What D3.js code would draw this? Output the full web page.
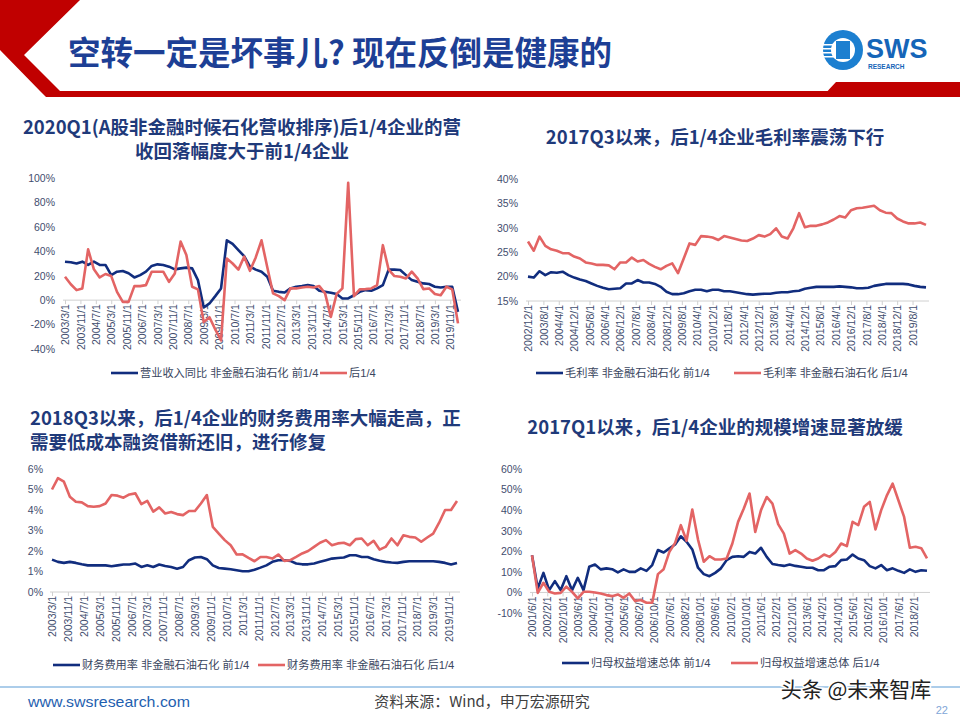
<!DOCTYPE html>
<html><head><meta charset="utf-8">
<script src="https://cdn.jsdelivr.net/npm/d3@7"></script>
<style>html,body{margin:0;padding:0;background:#fff;}svg{display:block;}</style>
</head><body>
<svg id="slide" width="960" height="720"></svg>
<script>
// ---------------- DATA ----------------
const mainTitle = "空转一定是坏事儿? 现在反倒是健康的";

// Chart 1: 营业收入同比 (quarterly, 2003/3 - 2020/3)
const c1Title = ["2020Q1(A股非金融时候石化营收排序)后1/4企业的营", "收回落幅度大于前1/4企业"];
const c1Start = "2003/3/1";
const c1Ticks = ["2003/3/1","2003/11/1","2004/7/1","2005/3/1","2005/11/1","2006/7/1","2007/3/1","2007/11/1","2008/7/1","2009/3/1","2009/11/1","2010/7/1","2011/3/1","2011/11/1","2012/7/1","2013/3/1","2013/11/1","2014/7/1","2015/3/1","2015/11/1","2016/7/1","2017/3/1","2017/11/1","2018/7/1","2019/3/1","2019/11/1"];
const c1YTicks = [100,80,60,40,20,0,-20,-40];
const c1Top = [31.5,31,30,31.5,28.8,31.5,28.8,28.8,20.5,23.3,23.8,22,18.6,20.5,23.3,28,29.3,28.8,27.4,25.2,26,26.6,26,16.4,-6,-2.7,3.3,9.6,49,46,41,36,27.4,25,23.3,19.2,7.7,6.8,6.3,9.6,11,11.5,12.3,11.5,7.7,6.8,6,5,1.4,1.4,4,6.8,8.2,7.7,9.6,12.3,25,25,24.7,20.5,16.4,15,13.7,13.2,11,10.4,11,11,-9.6];
const c1Bottom = [19.2,13,8.2,9.6,41.6,25.2,18.6,21.4,19.7,6.8,-1.4,-1.4,11.5,11.5,12.3,23.3,23.3,23.3,15,21.9,47.9,37,11,8.8,-18,-14,-24,-33,34,30,25,35.6,24,35,49,27,5.5,3.3,0,9.6,9.6,10.4,11,10.4,11.5,5.5,-13.7,5,9.6,96,3.3,8.8,9,9.6,12.3,45,25,19.7,19.2,17.8,23.3,17.8,9,9.6,5,4,11,8.8,-19];
const c1Legend = ["营业收入同比 非金融石油石化 前1/4", "后1/4"];

// Chart 2: 毛利率 (quarterly, 2002/12 - 2020/3)
const c2Title = ["2017Q3以来，后1/4企业毛利率震荡下行"];
const c2Start = "2002/12/1";
const c2Ticks = ["2002/12/1","2003/8/1","2004/4/1","2004/12/1","2005/8/1","2006/4/1","2006/12/1","2007/8/1","2008/4/1","2008/12/1","2009/8/1","2010/4/1","2010/12/1","2011/8/1","2012/4/1","2012/12/1","2013/8/1","2014/4/1","2014/12/1","2015/8/1","2016/4/1","2016/12/1","2017/8/1","2018/4/1","2018/12/1","2019/8/1"];
const c2YTicks = [40,35,30,25,20,15];
const c2Top = [20,19.8,21.1,20.3,20.9,20.8,21,20.3,19.8,19.4,19.1,18.6,18.1,17.7,17.4,17.5,17.6,18.6,18.6,19.3,18.8,18.8,18.5,17.9,16.9,16.4,16.4,16.6,17,17.3,17.3,17,17.3,17.3,17,17,16.8,16.6,16.4,16.3,16.4,16.5,16.5,16.7,16.8,16.8,17,17.1,17.5,17.7,17.9,17.9,17.9,17.9,18,17.9,17.8,17.6,17.6,17.7,18.1,18.3,18.5,18.5,18.5,18.5,18.4,18.1,17.9,17.8];
const c2Bottom = [27.2,25.3,28.2,26.3,25.6,25.3,24.8,24.8,24.1,23.7,22.9,22.7,22.4,22.4,22.3,21.5,22.9,22.9,23.9,23.1,23.4,22.6,22,21.5,22.2,22.7,20.7,23.7,26.8,26.5,28.3,28.2,28,27.5,28.3,28,27.7,27.4,27.3,27.8,28.5,28.2,28.7,29.9,28.2,27.8,29.9,33,30.1,30.4,30.4,30.7,31.1,31.7,32.4,32.1,33.6,34,34.1,34.3,34.5,33.6,33.1,33,31.9,31.3,30.9,30.9,31.1,30.6];
const c2Legend = ["毛利率 非金融石油石化 前1/4", "毛利率 非金融石油石化 后1/4"];

// Chart 3: 财务费用率 (quarterly, 2003/3 - 2020/3)
const c3Title = ["2018Q3以来，后1/4企业的财务费用率大幅走高，正", "需要低成本融资借新还旧，进行修复"];
const c3Start = "2003/3/1";
const c3Ticks = c1Ticks;
const c3YTicks = [6,5,4,3,2,1,0];
const c3Top = [1.58,1.47,1.42,1.47,1.42,1.35,1.3,1.3,1.3,1.3,1.26,1.3,1.34,1.34,1.39,1.22,1.3,1.22,1.34,1.27,1.22,1.14,1.22,1.55,1.68,1.71,1.6,1.3,1.17,1.14,1.11,1.06,1.01,1.01,1.09,1.19,1.3,1.47,1.55,1.55,1.52,1.39,1.35,1.35,1.39,1.47,1.55,1.63,1.66,1.68,1.79,1.79,1.71,1.71,1.6,1.52,1.47,1.44,1.42,1.47,1.5,1.5,1.5,1.5,1.5,1.47,1.42,1.34,1.42];
const c3Bottom = [5.0,5.55,5.38,4.65,4.4,4.37,4.19,4.16,4.19,4.32,4.73,4.7,4.6,4.76,4.81,4.29,4.45,3.92,4.13,3.83,3.9,3.8,3.75,3.95,3.95,4.32,4.73,3.18,2.85,2.53,2.28,1.83,1.84,1.66,1.5,1.71,1.71,1.63,1.83,1.52,1.55,1.71,1.88,2.0,2.2,2.4,2.53,2.28,2.37,2.4,2.28,2.58,2.61,2.28,2.5,2.07,2.2,2.61,2.28,2.77,2.69,2.66,2.45,2.66,2.85,3.38,4.0,4.0,4.44];
const c3Legend = ["财务费用率 非金融石油石化 前1/4", "财务费用率 非金融石油石化 后1/4"];

// Chart 4: 归母权益增速 (quarterly, 2001/6 - 2018/9)
const c4Title = ["2017Q1以来，后1/4企业的规模增速显著放缓"];
const c4Start = "2001/6/1";
const c4Ticks = ["2001/6/1","2002/2/1","2002/10/1","2003/6/1","2004/2/1","2004/10/1","2005/6/1","2006/2/1","2006/10/1","2007/6/1","2008/2/1","2008/10/1","2009/6/1","2010/2/1","2010/10/1","2011/6/1","2012/2/1","2012/10/1","2013/6/1","2014/2/1","2014/10/1","2015/6/1","2016/2/1","2016/10/1","2017/6/1","2018/2/1"];
const c4YTicks = [60,50,40,30,20,10,0,-10];
const c4Top = [18.1,1.9,9.5,1.1,5.5,1.1,7.9,1.1,7.1,1.1,12.5,13.6,11.2,11.7,11.3,9.7,11.2,10,10,11.7,10.5,13.3,20.6,19.4,21.4,23.3,27.3,24.6,20.9,12,8.9,7.9,9.5,11.7,15.7,17.3,17.6,17.3,19.7,18.9,21.7,17.3,13.8,13.3,12.9,13.6,12.9,12.5,12,12,10.8,10.8,12.5,12.8,15.7,16,18.4,16.5,15.7,12.8,11.7,13.3,10.8,11.7,10.5,9.5,11.2,10,10.8,10.5];
const c4Bottom = [18.1,-0.2,4.7,0.3,-0.5,-0.2,2.8,0.3,-2.9,0.3,0.3,0,-0.5,-1.3,-1.8,-1,-2.6,-0.5,-4.2,-3.7,-5,-5,8.9,11.3,19.7,24.1,32.7,25.1,40.3,25.7,14.9,17.6,16,16,16.5,23.8,34.3,40.8,48.1,29.4,40,46.4,43.2,33.2,28.6,18.9,20.6,18.9,16.5,15.4,16.5,18.4,17.3,19.7,23.8,22.5,34.3,32.7,41.6,44,30.6,40,47.2,52.9,44.8,36.7,21.7,22.2,21.5,16.5];
const c4Legend = ["归母权益增速总体 前1/4", "归母权益增速总体 后1/4"];

const footerUrl = "www.swsresearch.com";
const footerSource = "资料来源：Wind，申万宏源研究";
const watermark = "头条 @未来智库";
const pageNo = "22";

// ---------------- STYLE ----------------
const BLUE = "#112d7e", RED = "#e36464", AXISTXT = "#3f4d6e", TITLE = "#1f3a7a";
const LATIN = "'Liberation Sans', Arial, 'Noto Sans CJK SC', sans-serif";
const CJK = "'Noto Sans CJK SC', 'Liberation Sans', sans-serif";

const svg = d3.select("#slide");

// ---------------- HEADER ----------------
const hdr = svg.append("g");
hdr.append("path").attr("fill", "#c00000")
  .attr("d", "M0,0 L80,0 L24,55 L60,91 L40,91 L0,50 Z");
hdr.append("path").attr("fill", "#c00000")
  .attr("d", "M40,91 L960,91 L960,97 L46,97 Z");
hdr.append("path").attr("fill", "#c00000")
  .attr("d", "M836,82 L960,82 L960,97 L822,97 Z");
hdr.append("text").attr("x", 68).attr("y", 65)
  .attr("font-family", CJK).attr("font-weight", 700).attr("font-size", 32.5)
  .attr("fill", "#1d3f95").text(mainTitle);
// logo
const logo = hdr.append("g").attr("transform", "translate(843,50)");
logo.append("circle").attr("r", 20).attr("fill", "#1c7fd0");
logo.append("circle").attr("r", 12).attr("fill", "#ffffff");
logo.append("rect").attr("x", -7).attr("y", -9).attr("width", 14).attr("height", 18).attr("fill", "#1c7fd0");
[-6,-2,2,6].forEach(dy => logo.append("rect").attr("x", -20).attr("y", dy).attr("width", 12).attr("height", 1.5).attr("fill", "#ffffff"));
hdr.append("text").attr("x", 866).attr("y", 58).attr("font-family", LATIN).attr("font-weight", 700)
  .attr("font-size", 27).attr("fill", "#1565b8").text("SWS");
hdr.append("text").attr("x", 868).attr("y", 69).attr("font-family", LATIN).attr("font-weight", 700)
  .attr("font-size", 6.5).attr("fill", "#1565b8").text("RESEARCH");

// ---------------- CHART FUNCTION ----------------
function parseM(s) { const p = s.split("/").map(Number); return p[0] * 12 + (p[1] - 1); }

function drawChart(o) {
  const g = svg.append("g");
  const startM = parseM(o.start);
  const dates = d3.range(o.top.length).map(i => startM + 3 * i);
  const x = d3.scaleLinear().domain([startM, dates[dates.length - 1]]).range([o.x0, o.x1]);
  const y = d3.scaleLinear().domain([o.ymin, o.ymax]).range([o.yb, o.yt]);

  // titles
  o.title.forEach((t, k) => {
    g.append("text").attr("x", o.tx).attr("y", o.ty + k * 23.5)
      .attr("text-anchor", o.tanchor).attr("font-family", CJK).attr("font-weight", 700)
      .attr("font-size", 18.5).attr("fill", TITLE).text(t);
  });

  // y axis labels
  const yAxis = d3.axisLeft(y).tickValues(o.yticks).tickSize(0).tickPadding(0)
    .tickFormat(d => d + "%");
  const ya = g.append("g").attr("transform", `translate(${o.ylabX},0)`).call(yAxis);
  ya.select(".domain").remove();
  ya.selectAll("text").attr("font-family", LATIN).attr("font-size", 10.5).attr("fill", AXISTXT);

  // x axis
  const ay = y(o.xAxisAt);
  const xAxis = d3.axisBottom(x).tickValues(o.ticks.map(parseM)).tickSize(4).tickPadding(3)
    .tickFormat((d, i) => o.ticks[i]);
  const xa = g.append("g").attr("transform", `translate(0,${ay})`).call(xAxis);
  xa.select(".domain").attr("d", `M${o.x0 - 2},0H${o.x1 + 3}`).attr("stroke", "#d0d0d0").attr("stroke-width", 1);
  xa.selectAll(".tick line").attr("stroke", "#d0d0d0");
  xa.selectAll("text").attr("font-family", LATIN).attr("font-size", 10.5).attr("fill", AXISTXT)
    .attr("text-anchor", "end").attr("transform", "rotate(-90)")
    .attr("x", -4).attr("y", 0).attr("dy", "0.35em");

  // lines
  const line = d3.line().x((d, i) => x(dates[i])).y(d => y(d));
  g.append("path").datum(o.top).attr("fill", "none").attr("stroke", BLUE)
    .attr("stroke-width", 2.6).attr("stroke-linejoin", "round").attr("d", line);
  g.append("path").datum(o.bottom).attr("fill", "none").attr("stroke", RED)
    .attr("stroke-width", 2.6).attr("stroke-linejoin", "round").attr("d", line);

  // legend
  const lg = g.append("g").attr("transform", `translate(0,${o.ly})`);
  [[BLUE, o.legend[0], o.l1], [RED, o.legend[1], o.l2]].forEach(([c, t, lx]) => {
    lg.append("line").attr("x1", lx).attr("x2", lx + 27).attr("y1", 0).attr("y2", 0)
      .attr("stroke", c).attr("stroke-width", 2.6);
    lg.append("text").attr("x", lx + 29).attr("y", 0).attr("dy", "0.35em")
      .attr("font-family", LATIN).attr("font-size", 11.2).attr("fill", "#3a4660").text(t);
  });
}

drawChart({ title: c1Title, tx: 242, ty: 134, tanchor: "middle", start: c1Start, ticks: c1Ticks,
  top: c1Top, bottom: c1Bottom, legend: c1Legend, yticks: c1YTicks, ymin: -40, ymax: 100,
  x0: 65, x1: 458, yt: 178, yb: 349, ylabX: 55, xAxisAt: 0, ly: 373, l1: 111, l2: 320 });

drawChart({ title: c2Title, tx: 715, ty: 144, tanchor: "middle", start: c2Start, ticks: c2Ticks,
  top: c2Top, bottom: c2Bottom, legend: c2Legend, yticks: c2YTicks, ymin: 15, ymax: 40,
  x0: 528, x1: 926, yt: 179, yb: 301, ylabX: 518, xAxisAt: 15, ly: 373, l1: 536, l2: 734 });

drawChart({ title: c3Title, tx: 30, ty: 425, tanchor: "start", start: c3Start, ticks: c3Ticks,
  top: c3Top, bottom: c3Bottom, legend: c3Legend, yticks: c3YTicks, ymin: 0, ymax: 6,
  x0: 52, x1: 457, yt: 469, yb: 592, ylabX: 43, xAxisAt: 0, ly: 665, l1: 53, l2: 258 });

drawChart({ title: c4Title, tx: 715, ty: 434, tanchor: "middle", start: c4Start, ticks: c4Ticks,
  top: c4Top, bottom: c4Bottom, legend: c4Legend, yticks: c4YTicks, ymin: -10, ymax: 60,
  x0: 532, x1: 927, yt: 469, yb: 613, ylabX: 522, xAxisAt: 0, ly: 663, l1: 562, l2: 731 });

// ---------------- FOOTER ----------------
svg.append("line").attr("x1", 0).attr("x2", 960).attr("y1", 687).attr("y2", 687)
  .attr("stroke", "#5b9bd5").attr("stroke-width", 1.2);
svg.append("text").attr("x", 28).attr("y", 707).attr("font-family", LATIN).attr("font-size", 15)
  .attr("textLength", 162).attr("lengthAdjust", "spacingAndGlyphs")
  .attr("fill", "#1f5fb0").text(footerUrl);
svg.append("text").attr("x", 482).attr("y", 707).attr("text-anchor", "middle").attr("font-family", CJK)
  .attr("font-size", 15).attr("fill", "#404040").text(footerSource);
svg.append("text").attr("x", 856).attr("y", 697).attr("text-anchor", "middle").attr("font-family", CJK)
  .attr("font-size", 21).attr("fill", "#222").attr("stroke", "#fff").attr("stroke-width", 3)
  .attr("paint-order", "stroke").text(watermark);
svg.append("text").attr("x", 948).attr("y", 714).attr("text-anchor", "end").attr("font-family", LATIN)
  .attr("font-size", 11).attr("fill", "#7fa7d8").text(pageNo);
</script>
</body></html>
